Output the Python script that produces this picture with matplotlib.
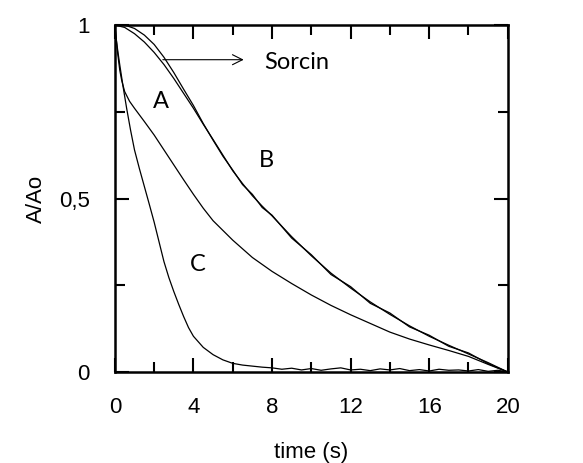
import matplotlib
matplotlib.use("Agg")
import matplotlib.pyplot as plt
from matplotlib.ticker import MultipleLocator, FixedLocator

# sorcin trace (fit and raw data, nearly overlapping)
sorcin_t = [0, 0.5, 1, 1.5, 2, 2.5, 3, 3.5, 4, 4.5, 5, 5.5, 6, 6.5, 7, 7.5, 8,
            9, 10, 11, 12, 13, 14, 15, 16, 17, 18, 19, 20]
sorcin_fit = [1.0, 0.993, 0.975, 0.951, 0.921, 0.886, 0.846, 0.803, 0.76, 0.714, 0.67,
              0.625, 0.58, 0.543, 0.508, 0.478, 0.45, 0.39, 0.335, 0.285, 0.242,
              0.202, 0.166, 0.133, 0.103, 0.077, 0.052, 0.027, 0.0]
sorcin_data = [1.0, 1.0, 0.99, 0.971, 0.944, 0.907, 0.863, 0.815, 0.768, 0.716, 0.668,
               0.622, 0.582, 0.54, 0.512, 0.474, 0.452, 0.386, 0.338, 0.281, 0.246,
               0.198, 0.17, 0.13, 0.106, 0.074, 0.055, 0.024, 0.0]

# curve A
a_t = [0, 0.04, 0.08, 0.15, 0.25, 0.35, 0.5, 0.75, 1, 1.5, 2, 2.5, 3, 3.5, 4, 4.5,
       5, 6, 7, 8, 9, 10, 11, 12, 13, 14, 15, 16, 17, 18, 19, 20]
a_val = [1.0, 0.975, 0.955, 0.915, 0.87, 0.84, 0.808, 0.78, 0.76, 0.722, 0.683,
         0.64, 0.597, 0.554, 0.512, 0.472, 0.436, 0.38, 0.33, 0.29, 0.255, 0.222,
         0.192, 0.165, 0.14, 0.115, 0.095, 0.078, 0.062, 0.045, 0.022, 0.0]

# curve C
c_t = [0, 0.08, 0.15, 0.25, 0.42, 0.6, 0.8, 1, 1.25, 1.5, 1.75, 2, 2.25, 2.5, 2.75,
       3, 3.25, 3.5, 3.75, 4, 4.5, 5, 5.5, 6, 6.5, 7, 7.5,
       8, 8.5, 9, 9.5, 10, 10.5, 11, 11.5, 12, 12.5, 13, 13.5, 14, 14.5, 15, 15.5,
       16, 16.5, 17, 17.5, 18, 18.5, 19, 19.5, 20]
c_val = [1.0, 0.955, 0.925, 0.885, 0.822, 0.76, 0.697, 0.64, 0.586, 0.535, 0.484,
         0.432, 0.375, 0.318, 0.272, 0.232, 0.195, 0.16, 0.128, 0.103, 0.071, 0.05,
         0.035, 0.025, 0.02, 0.017, 0.014,
         0.012, 0.008, 0.011, 0.006, 0.01, 0.005, 0.009, 0.012, 0.006, 0.008,
         0.004, 0.009, 0.006, 0.01, 0.004, 0.007, 0.003, 0.008, 0.005, 0.006,
         0.003, 0.007, 0.002, 0.005, 0.0]

x_ticks = [0, 4, 8, 12, 16, 20]
y_ticks = [0, 0.5, 1]
y_tick_labels = ["0", "0,5", "1"]

plt.rcParams['font.family'] = ['Liberation Sans', 'DejaVu Sans']

fig = plt.figure(figsize=(5.83, 4.63), dpi=100)
ax = fig.add_axes([0.197, 0.1965, 0.674, 0.7495])

lw = 0.9
ax.plot(sorcin_t, sorcin_fit, color='black', lw=lw)
ax.plot(sorcin_t, sorcin_data, color='black', lw=lw)
ax.plot(a_t, a_val, color='black', lw=lw)
ax.plot(c_t, c_val, color='black', lw=lw)

ax.set_xlim(0, 20)
ax.set_ylim(0, 1)
ax.set_xticks(x_ticks)
ax.xaxis.set_minor_locator(MultipleLocator(2))
ax.set_yticks(y_ticks)
ax.set_yticklabels(y_tick_labels)
ax.yaxis.set_minor_locator(FixedLocator([0.25, 0.75]))

ax.tick_params(which='both', direction='in', top=True, right=True, width=1.5,
               labelsize=16)
ax.tick_params(which='major', length=10)
ax.tick_params(which='minor', length=7)
ax.tick_params(axis='x', which='major', pad=18)
ax.tick_params(axis='y', which='major', pad=18)
for s in ax.spines.values():
    s.set_linewidth(1.8)

ax.set_xlabel("time (s)", fontsize=16, labelpad=17)
ax.set_ylabel("A/Ao", fontsize=16, labelpad=9)

label_font = ['Lato', 'DejaVu Sans']
ax.annotate("", xy=(6.7, 0.9), xytext=(2.3, 0.9),
            arrowprops=dict(arrowstyle='->', lw=0.8, color='black',
                            mutation_scale=18))
ax.text(7.6, 0.893, "Sorcin", fontsize=17, family=label_font, va='center', ha='left')
ax.text(2.37, 0.78, "A", fontsize=17, family=label_font, va='center', ha='center')
ax.text(7.72, 0.61, "B", fontsize=17, family=label_font, va='center', ha='center')
ax.text(4.23, 0.31, "C", fontsize=17, family=label_font, va='center', ha='center')

fig.savefig("out.png", dpi=100)
